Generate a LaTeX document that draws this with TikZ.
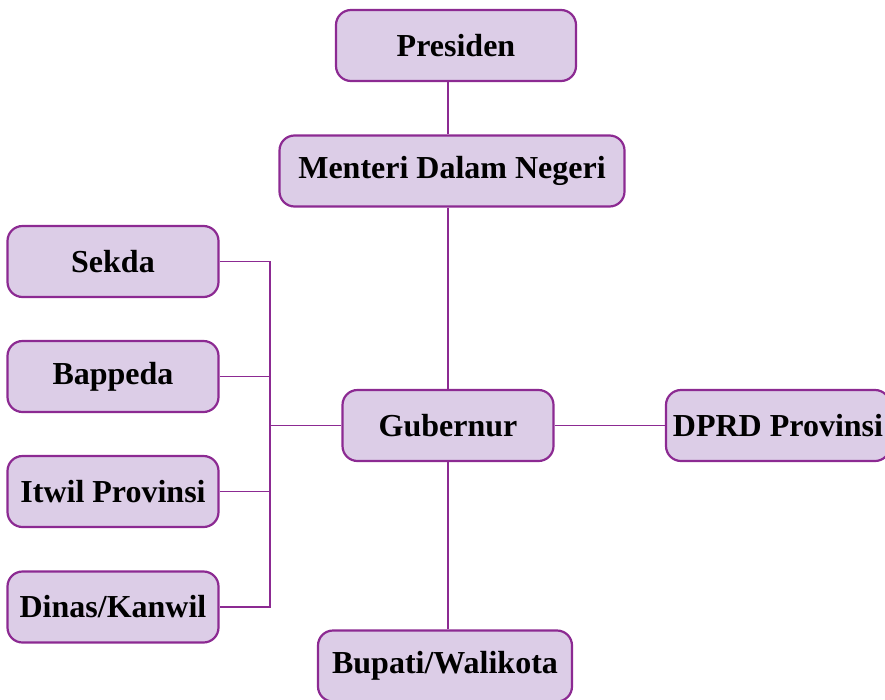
\documentclass[tikz,border=0pt]{standalone}
\usepackage{fontspec}
\setmainfont{Liberation Serif}
\usepackage{tikz}

\definecolor{boxfill}{RGB}{220,205,231}
\definecolor{boxline}{RGB}{140,42,146}

\begin{document}
\begin{tikzpicture}[x=1pt, y=-1pt]
        \tikzstyle{every node}=[rectangle, rounded corners=15pt, draw=boxline, line width=2.2pt, fill=boxfill, inner sep=2pt, minimum height=71pt, font=\fontsize{32}{36}\selectfont\bfseries]
        \tikzstyle{link}=[draw=boxline, line width=1.8pt]
        \useasboundingbox (0,0) rectangle (885,699);
        \clip (0,0) rectangle (885,699);
        \node [minimum width=240pt] (pres) at (456,45.5) {Presiden};
        \node [minimum width=345pt] (mdn) at (452,171) {Menteri Dalam Negeri};
        \node [minimum width=211pt] (gub) at (448,425.5) {Gubernur};
        \node [minimum width=224pt] (dprd) at (778,425.5) {DPRD Provinsi};
        \node [minimum width=254pt] (bup) at (445,666) {Bupati/Walikota};
        \node [minimum width=211pt] (sekda) at (113,261.5) {Sekda};
        \node [minimum width=211pt] (bapp) at (113,376.5) {Bappeda};
        \node [minimum width=211pt] (itwil) at (113,491.5) {Itwil Provinsi};
        \node [minimum width=211pt] (dinas) at (113,607) {Dinas/Kanwil};
        \coordinate (bus) at (270,425.5);
        \draw [link] (pres.south -| gub) -- (mdn.north -| gub);
        \draw [link] (mdn.south -| gub) -- (gub.north);
        \draw [link] (gub.south) -- (bup.north -| gub);
        \draw [link] (gub.east) -- (dprd.west);
        \draw [link] (gub.west) -- (bus);
        \draw [link] (sekda.east) -| (bus) |- (dinas.east);
        \draw [link] (bapp.east) -- (bapp.east -| bus);
        \draw [link] (itwil.east) -- (itwil.east -| bus);
    \end{tikzpicture}
\end{document}
